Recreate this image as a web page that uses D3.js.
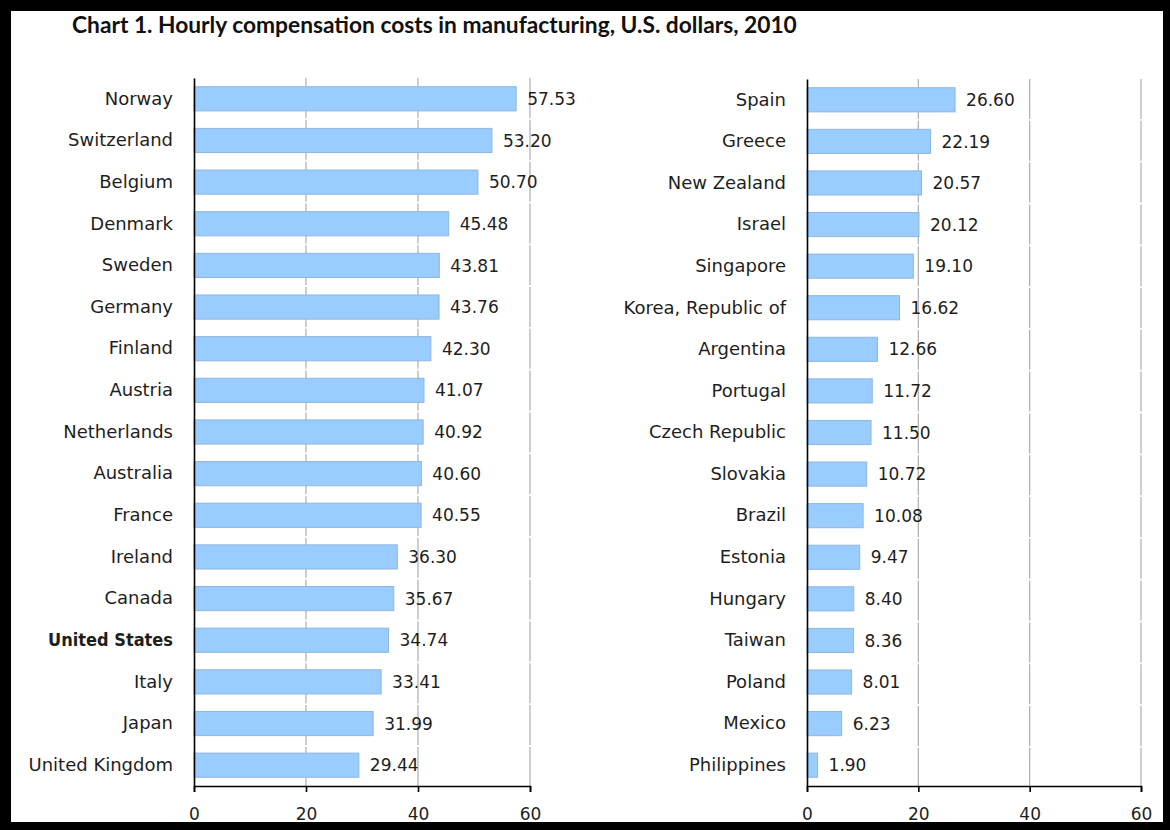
<!DOCTYPE html>
<html><head><meta charset="utf-8">
<script src="https://cdn.jsdelivr.net/npm/d3@7"></script>
<style>body{margin:0;background:#fff}svg{display:block}</style>
</head><body>
<svg id="chart" width="1170" height="830"></svg>
<script>
const title = "Chart 1. Hourly compensation costs in manufacturing, U.S. dollars, 2010";
const leftCountries = ["Norway","Switzerland","Belgium","Denmark","Sweden","Germany","Finland","Austria","Netherlands","Australia","France","Ireland","Canada","United States","Italy","Japan","United Kingdom"];
const leftValues = [57.53,53.20,50.70,45.48,43.81,43.76,42.30,41.07,40.92,40.60,40.55,36.30,35.67,34.74,33.41,31.99,29.44];
const rightCountries = ["Spain","Greece","New Zealand","Israel","Singapore","Korea, Republic of","Argentina","Portugal","Czech Republic","Slovakia","Brazil","Estonia","Hungary","Taiwan","Poland","Mexico","Philippines"];
const rightValues = [26.60,22.19,20.57,20.12,19.10,16.62,12.66,11.72,11.50,10.72,10.08,9.47,8.40,8.36,8.01,6.23,1.90];
const xTicks = [0,20,40,60];
const highlight = "United States";

const svg = d3.select("#chart");
const FONT = "'DejaVu Sans', Verdana, sans-serif";
const TXT = "#1e1e1e";

// frame
svg.append("rect").attr("x",0).attr("y",0).attr("width",1170).attr("height",830).attr("fill","#000");
svg.append("rect").attr("x",11).attr("y",11).attr("width",1152).attr("height",811).attr("fill","#fff");

// title
const t = svg.append("text").attr("x",72).attr("y",33)
  .attr("font-family","Lato, 'Open Sans', sans-serif").attr("font-weight","bold")
  .attr("font-size",20).attr("fill","#111").text(title);
const w = t.node().getComputedTextLength();
t.attr("font-size", 20*725/w);

function panel(names, values, x0, x1, yTop, yBot) {
  const x = d3.scaleLinear().domain([0,60]).range([x0,x1]);
  const y = d3.scaleBand().domain(names).range([yTop,yBot]).paddingInner(0.42).paddingOuter(0.21);
  const g = svg.append("g");
  // gridlines
  g.selectAll("line.grid").data(xTicks.filter(d=>d>0)).join("line")
    .attr("x1",d=>x(d)).attr("x2",d=>x(d)).attr("y1",yTop).attr("y2",yBot)
    .attr("stroke","#b4b4b4").attr("stroke-width",1.3).attr("stroke-dasharray","40,1.8");
  // bars
  g.selectAll("rect.bar").data(values).join("rect")
    .attr("x",x(0)).attr("y",(d,i)=>y(names[i]))
    .attr("width",d=>x(d)-x(0)).attr("height",y.bandwidth())
    .attr("fill","#99ccff").attr("stroke","#8fb6de").attr("stroke-width",1);
  // value labels
  g.selectAll("text.val").data(values).join("text")
    .attr("x",d=>x(d)+11).attr("y",(d,i)=>y(names[i])+y.bandwidth()/2)
    .attr("dy","0.36em").attr("font-family",FONT).attr("font-size",17).attr("fill",TXT)
    .text(d=>d.toFixed(2));
  // x axis
  const ax = g.append("g").attr("transform",`translate(0,${yBot})`)
    .call(d3.axisBottom(x).tickValues(xTicks).tickSize(6).tickPadding(16));
  ax.select(".domain").attr("stroke","#000").attr("stroke-width",1.6);
  ax.selectAll(".tick line").attr("stroke","#000").attr("stroke-width",1.6);
  ax.selectAll(".tick text").attr("font-family",FONT).attr("font-size",17).attr("fill",TXT);
  // y axis
  const ay = g.append("g").attr("transform",`translate(${x0},0)`)
    .call(d3.axisLeft(y).tickSize(0).tickPadding(21));
  ay.select(".domain").attr("stroke","#000").attr("stroke-width",1.6);
  ay.selectAll(".tick text").attr("fill",TXT).attr("font-size",18)
    .attr("font-family",d=>d===highlight?"'DejaVu Sans Condensed', 'DejaVu Sans', sans-serif":FONT)
    .attr("font-weight",d=>d===highlight?"bold":"normal");
}
panel(leftCountries, leftValues, 194, 530, 78, 786);
panel(rightCountries, rightValues, 807, 1141, 79, 786);
</script>
</body></html>
